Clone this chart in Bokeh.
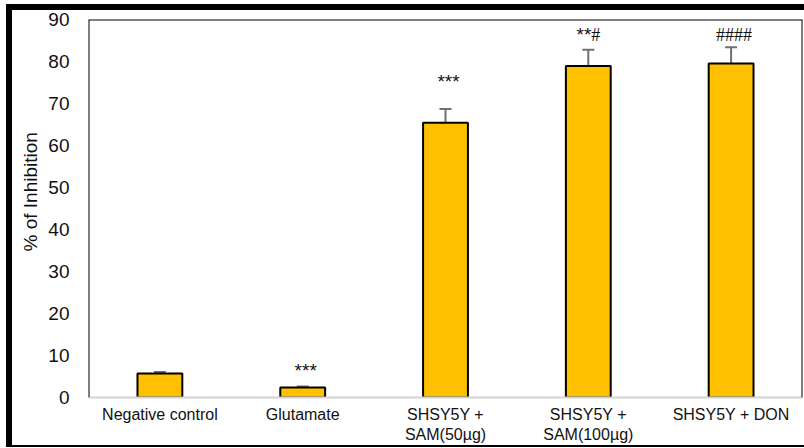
from bokeh.plotting import figure
from bokeh.layouts import column, row
from bokeh.models import ColumnDataSource, Whisker, TeeHead, Span, Title, FixedTicker, Spacer
from bokeh.core.properties import value
from bokeh.embed import file_html
from bokeh.resources import INLINE

# Treatment groups and measured inhibition (%), with standard error
categories = [
    "Negative control",
    "Glutamate",
    "SHSY5Y +\nSAM(50µg)",
    "SHSY5Y +\nSAM(100µg)",
    "SHSY5Y + DON",
]
inhibition = [5.7, 2.4, 65.4, 78.9, 79.5]
error = [0.35, 0.2, 3.3, 3.9, 3.9]

# Significance marks drawn above the bars
stars = ["", "***", "***", "**", ""]
hashes = ["", "", "", "#", "####"]

y_ticks = [0, 10, 20, 30, 40, 50, 60, 70, 80, 90]

xs = list(range(1, len(categories) + 1))
upper = [v + e for v, e in zip(inhibition, error)]

src = ColumnDataSource(dict(x=xs, top=inhibition, upper=upper))

FONT = "Liberation Sans"

p = figure(
    width=792, height=435,
    x_range=(0.5, len(categories) + 0.5), y_range=(0, 90),
    output_backend="svg", toolbar_location=None,
    min_border_left=74, min_border_right=2, min_border_top=9, min_border_bottom=46,
)
p.outline_line_color = None
p.grid.visible = False
p.background_fill_color = "white"
p.border_fill_color = "white"

# bars
p.vbar(x="x", top="top", width=0.314, source=src,
       fill_color="#FFC000", line_color="black", line_width=2)

# error bars (upper only)
whisk = Whisker(source=src, base="x", lower="top", upper="upper", dimension="height",
                line_color="#707070", line_width=2,
                upper_head=TeeHead(size=12, line_color="#707070", line_width=2),
                lower_head=None)
p.add_layout(whisk)

# plot-area frame: black on left, top and right
p.add_layout(Span(location=0.5, dimension="height", line_color="black", line_width=2))
p.add_layout(Span(location=len(categories) + 0.5, dimension="height", line_color="black", line_width=2))
p.add_layout(Span(location=90, dimension="width", line_color="black", line_width=2))

# significance annotations
label_y = [0, 6.4, 75.3, 86.4, 86.4]
star_x, star_y, star_t, star_align = [], [], [], []
hash_x, hash_y, hash_t, hash_align = [], [], [], []
for x, s, h, ly in zip(xs, stars, hashes, label_y):
    if s and h:
        star_x.append(x); star_y.append(ly); star_t.append(s); star_align.append("right")
        hash_x.append(x); hash_y.append(ly); hash_t.append(h); hash_align.append("left")
    elif s:
        star_x.append(x); star_y.append(ly); star_t.append(s); star_align.append("center")
    elif h:
        hash_x.append(x); hash_y.append(ly); hash_t.append(h); hash_align.append("center")

p.text(x=star_x, y=star_y, text=star_t, text_align=star_align, x_offset=3,
       text_baseline="alphabetic", text_font=value(FONT), text_font_size="19px",
       text_color="#111111")
p.text(x=hash_x, y=hash_y, text=hash_t, text_align=hash_align, x_offset=3,
       text_baseline="alphabetic", text_font=value("Liberation Serif"), text_font_size="18px",
       text_color="#111111")

# y axis
p.yaxis.ticker = FixedTicker(ticks=y_ticks)
p.yaxis.axis_line_color = None
p.yaxis.major_tick_line_color = None
p.yaxis.major_tick_out = 0
p.yaxis.major_tick_in = 0
p.yaxis.minor_tick_line_color = None
p.yaxis.major_label_standoff = 19
p.yaxis.major_label_text_font = FONT
p.yaxis.major_label_text_font_size = "19px"
p.yaxis.major_label_text_color = "#111111"

# x axis
p.xaxis.ticker = FixedTicker(ticks=xs)
p.xaxis.major_label_overrides = {x: c for x, c in zip(xs, categories)}
p.xaxis.axis_line_color = "#d4d4d4"
p.xaxis.axis_line_width = 2
p.xaxis.major_tick_line_color = None
p.xaxis.major_tick_out = 0
p.xaxis.major_tick_in = 0
p.xaxis.minor_tick_line_color = None
p.xaxis.major_label_standoff = 8
p.xaxis.major_label_text_font = FONT
p.xaxis.major_label_text_font_size = "16px"
p.xaxis.major_label_text_line_height = 1.2
p.xaxis.major_label_text_color = "#111111"

# y axis title
p.add_layout(Title(text="% of Inhibition", align="left", offset=146, standoff=10,
                   text_font=FONT, text_font_size="19px", text_font_style="normal",
                   text_color="#111111"), "left")

# chart border: thick bars on left/top, thin bar at the bottom
BLACK = {"background-color": "black"}
top_bar = Spacer(width=798, height=6, styles=BLACK)
left_bar = Spacer(width=6, height=435, styles=BLACK)
bottom_bar = Spacer(width=798, height=2, styles=BLACK)
framed = column(top_bar, row(left_bar, p, spacing=0), bottom_bar, spacing=0)
page = column(Spacer(width=804, height=4),
              row(Spacer(width=6, height=443), framed, spacing=0),
              spacing=0)

open("out.html", "w").write(file_html(page, INLINE))
